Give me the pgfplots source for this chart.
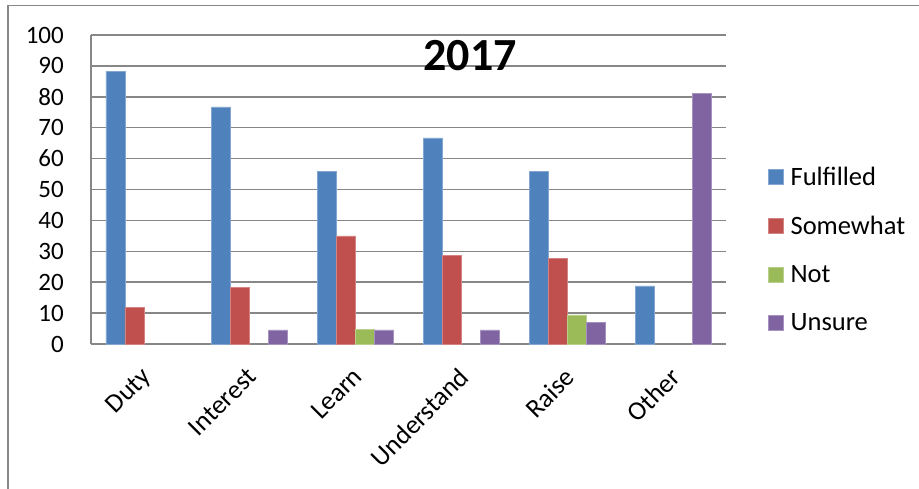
\documentclass[border=0pt]{standalone}
\usepackage{pgfplots}
\pgfplotsset{compat=1.18}
\usepackage{fontspec}
\setmainfont{Carlito}
\definecolor{cfulf}{HTML}{4F81BD}
\definecolor{csome}{HTML}{C0504D}
\definecolor{cnot}{HTML}{9BBB59}
\definecolor{cuns}{HTML}{8064A2}
\definecolor{gridg}{HTML}{878787}
\begin{document}
\begin{tikzpicture}
\path[use as bounding box] (0,0) rectangle (919pt,-489pt);
\draw[gridg, line width=1.5pt] (8pt,-489pt) -- (8pt,-5.5pt) -- (919pt,-5.5pt);
\begin{axis}[
    at={(91pt,-344pt)}, anchor=south west,
    scale only axis,
    width=635pt, height=309pt,
    ybar=0pt, bar width=19pt,
    xmin=-0.5, xmax=5.5,
    ymin=0, ymax=100,
    ytick={0,10,...,100},
    xtick={0,...,5},
    xticklabels={Duty,Interest,Learn,Understand,Raise,Other},
    axis x line*=bottom, axis y line*=left,
    axis line style={gridg, line width=1.5pt, -},
    ymajorgrids,
    grid style={gridg, line width=1.5pt},
    major tick length=0pt,
    /pgf/number format/assume math mode=true,
    yticklabel style={font=\fontsize{25}{28}\selectfont, anchor=east, inner sep=0pt, xshift=-27pt},
    xticklabel style={font=\fontsize{26.5}{30}\selectfont, xshift=-4pt, yshift=-22pt, rotate=45, anchor=north east, inner sep=0pt},
    title={2017},
    title style={at={(0.597,0.913)}, anchor=center, inner sep=0pt, font=\fontsize{46}{46}\selectfont\bfseries},
    legend style={at={(1.066,0.306)}, anchor=west, draw=none, fill=none,
        font=\fontsize{26.5}{30}\selectfont, row sep=29.5pt, column sep=7pt, inner sep=0pt,
        nodes={inner sep=0pt, anchor=west}},
    legend cell align=left,
    legend image code/.code={\fill[#1] (0pt,-7.5pt) rectangle (15pt,7.5pt);},
]
\addplot[fill=cfulf, draw=cfulf!70!white, line width=0.5pt] coordinates {(0,88.2) (1,76.7) (2,55.8) (3,66.7) (4,55.9) (5,18.8)};
\addplot[fill=csome, draw=csome!70!white, line width=0.5pt] coordinates {(0,11.8) (1,18.4) (2,35) (3,28.8) (4,27.8)};
\addplot[fill=cnot, draw=cnot!70!white, line width=0.5pt] coordinates {(2,4.7) (4,9.4)};
\addplot[fill=cuns, draw=cuns!70!white, line width=0.5pt] coordinates {(1,4.6) (2,4.6) (3,4.6) (4,7.1) (5,81.2)};
\legend{Fulfilled,Somewhat,Not,Unsure}
\end{axis}
\end{tikzpicture}
\end{document}
